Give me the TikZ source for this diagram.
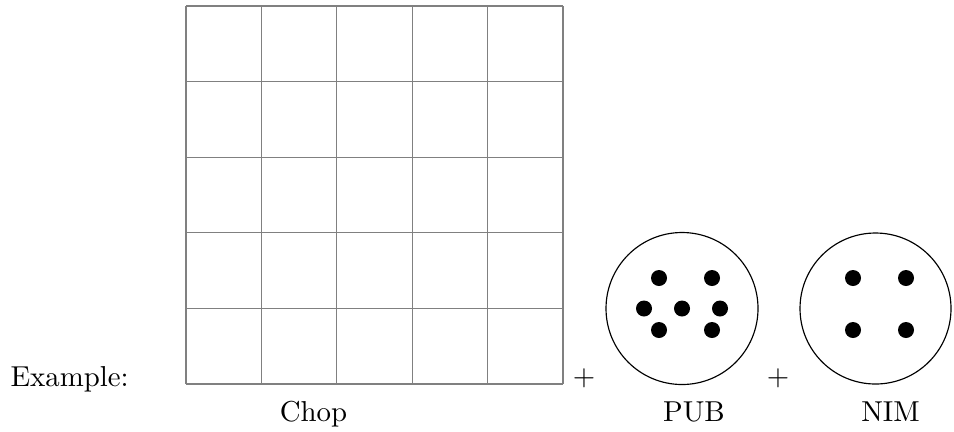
\documentclass[tikz,border=0pt]{standalone}
\begin{document}
\begin{tikzpicture}[x=0.347pt,y=-0.347pt,
  gridline/.style={draw=gray,line width=0.4pt},
  bowl/.style={draw=black,line width=0.4pt},
  bead/.style={fill=black},
  lbl/.style={anchor=base,inner sep=0pt},
  plusmark/.style={anchor=center,inner sep=0pt}]
\useasboundingbox (0,0) rectangle (954,431);

% board of 5 x 5 squares
\foreach \i in {0,...,5}{
  \draw[gridline] ({186+75.4*\i},6) -- ({186+75.4*\i},384);
  \draw[gridline] (186,{6+75.6*\i}) -- (563,{6+75.6*\i});
}

% PUB bowl with seven beads
\draw[bowl] (682,308.5) circle[radius=76];
\foreach \p in {(659,278),(712,278),(644,308.5),(682,308.5),(720,308.5),(659,330),(712,330)}
  \fill[bead] \p circle[radius=8];

% NIM bowl with four beads
\draw[bowl] (875.5,308.5) circle[radius=75.5];
\foreach \p in {(853,278),(906,278),(853,330),(906,330)}
  \fill[bead] \p circle[radius=8];

% texts
\node[anchor=base west,inner sep=0pt] (ex) at (10,386) {Example:};
\node[lbl] (chop) at (313.5,421) {Chop};
\node[lbl] (pub) at (694,421) {PUB};
\node[lbl] (nim) at (890.5,421) {NIM};
\node[plusmark] (plusA) at (584,378) {$+$};
\node[plusmark] (plusB) at (778,378) {$+$};
\end{tikzpicture}
\end{document}
